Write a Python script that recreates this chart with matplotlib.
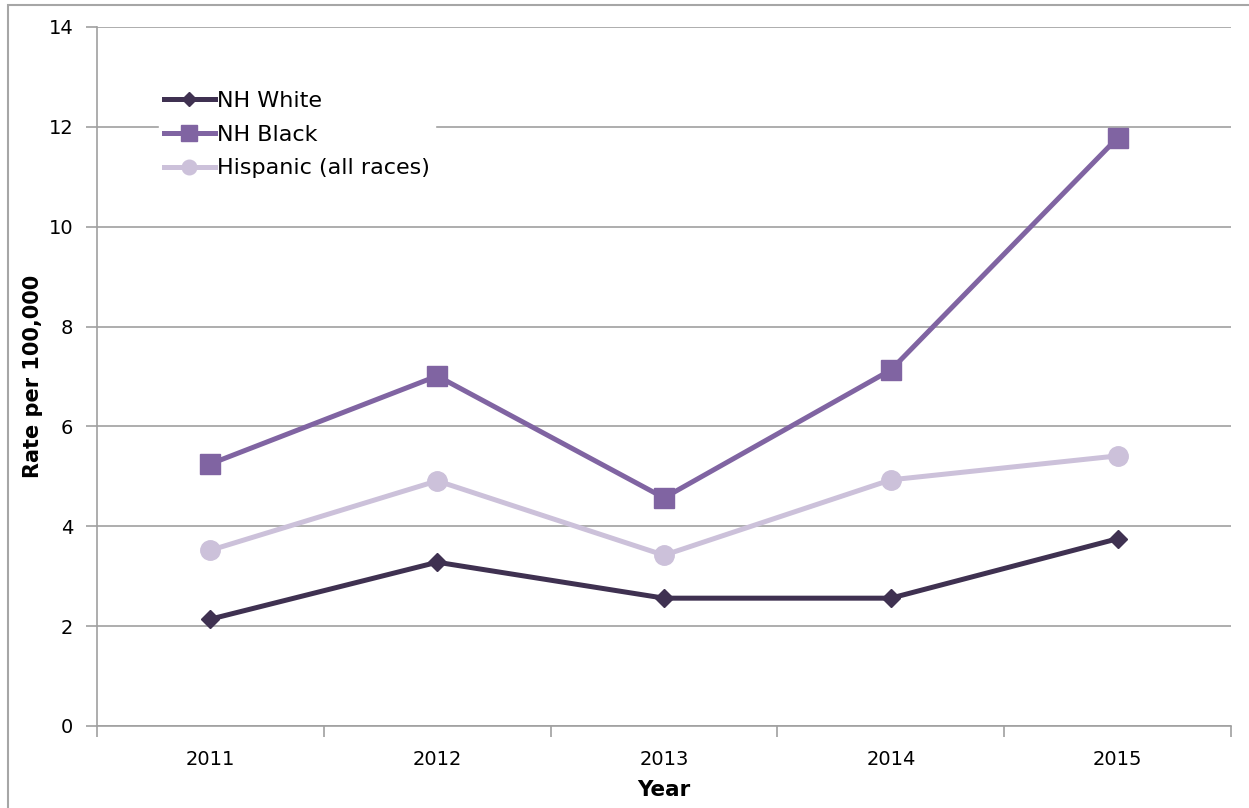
import matplotlib.pyplot as plt
import matplotlib.patches as mpatches
import numpy as np

years = ["2011", "2012", "2013", "2014", "2015"]
nh_white = [2.14, 3.28, 2.56, 2.56, 3.75]
nh_black = [5.25, 7.01, 4.57, 7.13, 11.78]
hispanic = [3.52, 4.91, 3.42, 4.93, 5.41]

plt.rcParams["font.family"] = ["DejaVu Sans"]

fig = plt.figure(figsize=(12.49, 8.08), dpi=100)
ax = fig.add_axes([0.0777, 0.1015, 0.9079, 0.8651])

# outer chart frame
fig.patches.append(mpatches.Rectangle((8 / 1249, -0.01), 1.1, 1 - 5 / 808 + 0.01,
                                      transform=fig.transFigure, fill=False,
                                      edgecolor="#a6a6a6", linewidth=1.5))

x = np.arange(len(years))
ax.plot(x, nh_white, color="#3f3151", lw=3.6, marker="D", ms=9, label="NH White", zorder=4)
ax.plot(x, nh_black, color="#8064a2", lw=3.6, marker="s", ms=15, label="NH Black", zorder=3)
ax.plot(x, hispanic, color="#ccc1da", lw=3.6, marker="o", ms=14, label="Hispanic (all races)", zorder=2)

ax.set_xlim(-0.5, 4.5)
ax.set_ylim(0, 14)
ax.set_yticks(np.arange(0, 15, 2))
ax.yaxis.grid(True, color="#a0a0a0", lw=1.2)
ax.set_axisbelow(True)

ax.set_xticks(np.arange(-0.5, 5, 1))
ax.set_xticklabels([])
ax.set_xticks(x, minor=True)
ax.set_xticklabels(years, minor=True)
ax.tick_params(axis="x", which="minor", length=0, pad=17, labelsize=14)
ax.tick_params(axis="x", which="major", length=8, color="#a0a0a0", width=1.2)
ax.tick_params(axis="y", length=8, color="#a0a0a0", width=1.2, labelsize=14, pad=9)

for s in ("top", "right"):
    ax.spines[s].set_visible(False)
for s in ("left", "bottom"):
    ax.spines[s].set_color("#a0a0a0")
    ax.spines[s].set_linewidth(1.2)

ax.set_xlabel("Year", fontsize=15.5, fontweight="bold", labelpad=8)
ax.set_ylabel("Rate per 100,000", fontsize=15, fontweight="bold", labelpad=4)

leg = ax.legend(loc="upper left", bbox_to_anchor=(0.055, 0.915), frameon=True,
                fontsize=16, handlelength=2.3, handletextpad=0.1, labelspacing=0.62,
                borderpad=0.2, borderaxespad=0, fancybox=False, markerscale=0.75)
leg.get_frame().set_edgecolor("white")
leg.get_frame().set_facecolor("white")
leg.get_frame().set_alpha(1)

fig.savefig("out.png", dpi=100)
